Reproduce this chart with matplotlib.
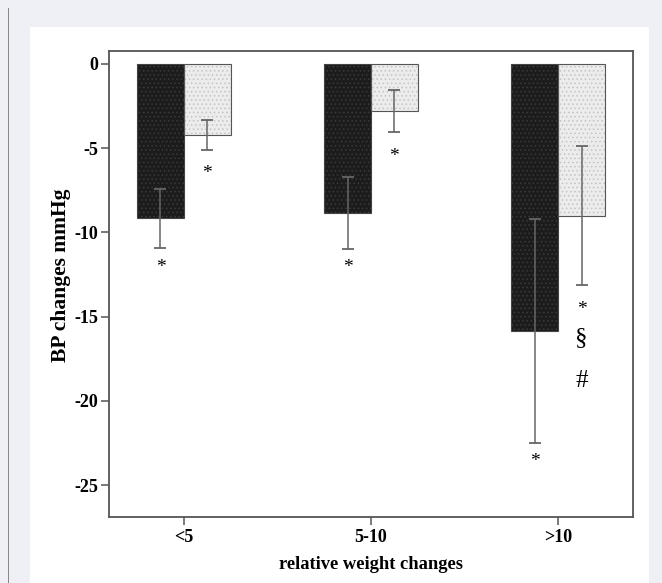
import matplotlib.pyplot as plt
import numpy as np
from matplotlib.patches import Rectangle

plt.rcParams['font.family'] = ['Liberation Serif', 'DejaVu Serif']
plt.rcParams['hatch.linewidth'] = 0.6

categories = ["<5", "5-10", ">10"]
dark_means = [-9.15, -8.85, -15.85]
dark_err = [1.75, 2.15, 6.67]
light_means = [-4.2, -2.8, -9.0]
light_err = [0.9, 1.25, 4.1]

# significance marks below each bar
dark_marks = [["*"], ["*"], ["*"]]
dark_mark_y = [[-12.1], [-12.1], [-23.6]]
light_marks = [["*"], ["*"], ["*", "§", "#"]]
light_mark_y = [[-6.5], [-5.5], [-14.6, -16.3, -18.8]]

fig = plt.figure(figsize=(6.62, 5.83), dpi=100)
fig.patch.set_facecolor('#eff0f6')
# white panel and left rule
fig.add_artist(Rectangle((30 / 662, 0), (649 - 30) / 662, 1 - 27 / 583,
                         transform=fig.transFigure, facecolor='white',
                         edgecolor='none', zorder=-10))
fig.add_artist(Rectangle((7.5 / 662, 0), 1.2 / 662, 1 - 8 / 583,
                         transform=fig.transFigure, facecolor='#888888',
                         edgecolor='none', zorder=-10))

ax = fig.add_axes([109 / 662, 1 - 517 / 583, (633 - 109) / 662, (517 - 51) / 583])
ax.set_facecolor('white')

x = np.arange(len(categories))
w = 0.25

ax.bar(x - w / 2, dark_means, w, color='#1c1c1c', hatch='....',
       edgecolor='#3a3a3a', linewidth=0, zorder=2)
ax.bar(x - w / 2, dark_means, w, fill=False, edgecolor='#444444',
       linewidth=0.8, zorder=3)
ax.bar(x + w / 2, light_means, w, color='#ececec', hatch='....',
       edgecolor='#c4c4c4', linewidth=0, zorder=2)
ax.bar(x + w / 2, light_means, w, fill=False, edgecolor='#555555',
       linewidth=0.8, zorder=3)

ax.errorbar(x - w / 2, dark_means, yerr=dark_err, fmt='none', ecolor='#666666',
            elinewidth=1.1, capsize=4, capthick=1.3, zorder=4)
ax.errorbar(x + w / 2, light_means, yerr=light_err, fmt='none', ecolor='#666666',
            elinewidth=1.1, capsize=4, capthick=1.3, zorder=4)

for i in range(len(categories)):
    for m, yy in zip(dark_marks[i], dark_mark_y[i]):
        ax.text(x[i] - w / 2, yy, m, ha='center', va='center',
                fontsize=14, zorder=5)
    for m, yy in zip(light_marks[i], light_mark_y[i]):
        ax.text(x[i] + w / 2, yy, m, ha='center', va='center',
                fontsize=14 if m == "*" else 18, zorder=5)

ax.set_xlim(-0.4, 2.4)
ax.set_ylim(-26.9, 0.77)
ax.set_yticks([0, -5, -10, -15, -20, -25])
ax.set_yticklabels(["0", "-5", "-10", "-15", "-20", "-25"])
ax.set_xticks(x)
ax.set_xticklabels(categories)

for s in ax.spines.values():
    s.set_color('#555555')
    s.set_linewidth(1.3)
ax.tick_params(direction='out', length=6, width=1.1, color='#555555',
               labelsize=13, pad=1.5)
for lab in ax.get_xticklabels() + ax.get_yticklabels():
    lab.set_fontweight('bold')
ax.tick_params(axis='x', pad=3)

ax.set_xlabel("relative weight changes", fontsize=13.3, fontweight='bold', labelpad=7)
ax.set_ylabel("BP changes mmHg", fontsize=15.5, fontweight='bold')
ax.yaxis.set_label_coords(-0.072, 0.519)

fig.savefig("out.png", dpi=100, facecolor=fig.get_facecolor())
